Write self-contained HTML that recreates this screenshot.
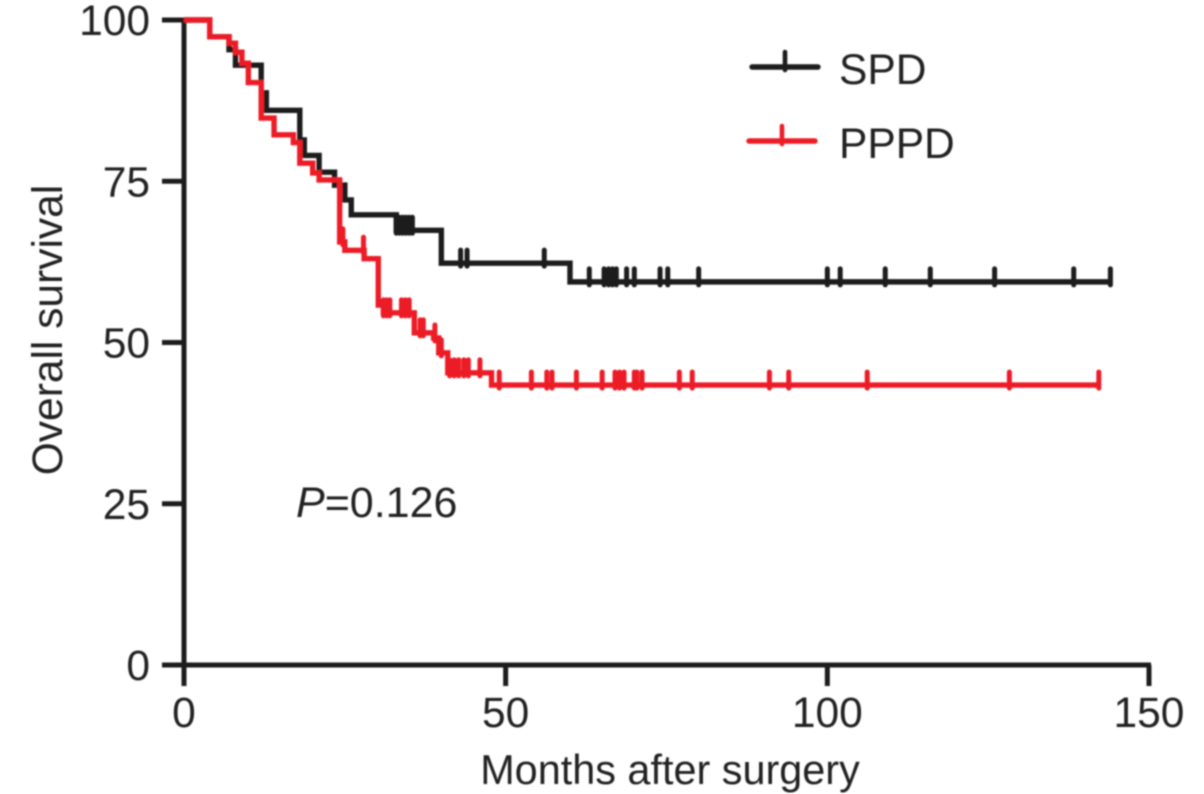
<!DOCTYPE html>
<html>
<head>
<meta charset="utf-8">
<style>
html,body{margin:0;padding:0;background:#fff;width:1204px;height:794px;overflow:hidden}
svg{display:block}
text{font-family:"Liberation Sans",sans-serif;fill:#222}
</style>
</head>
<body>
<svg id="chart" xmlns="http://www.w3.org/2000/svg" width="1204" height="794" viewBox="0 0 1204 794">
<defs><filter id="soft" x="-5%" y="-5%" width="110%" height="110%"><feGaussianBlur stdDeviation="0.7"/></filter></defs>
<g id="root" filter="url(#soft)"></g>
</svg>
<script>
var xTicks = [0, 50, 100, 150];
var yTicks = [0, 25, 50, 75, 100];
var spdTimes = [0, 4, 7, 8, 12, 12.8, 18, 18.7, 21, 23.4, 25, 26, 33, 40, 60, 144];
var spdSurv = [100, 97.4, 95.4, 93, 88.7, 86, 81.4, 79, 76.4, 74.4, 72.1, 69.8, 67.4, 62.3, 59.4, 59.4];
var spdCensor = [33, 33.5, 34, 34.5, 35, 35.5, 43, 44, 56, 63, 65.3, 66, 66.6, 67.2, 68.8, 70, 74, 75.2, 80, 100, 102, 109, 116, 126, 138.3, 144];
var pppdTimes = [0, 4, 7, 8, 9, 10, 12, 14, 17, 18, 20, 21, 24.2, 25, 28, 30.2, 31, 35.8, 38.8, 39.6, 41, 47.8, 142];
var pppdSurv = [100, 97.4, 96.4, 95, 93.3, 90.3, 84.8, 82.2, 81, 77.8, 76.3, 75.2, 65.6, 64.3, 63, 55.8, 54.6, 51.5, 50.7, 48.4, 45.3, 43.4, 43.4];
var pppdCensor = [24.7, 27.9, 31, 31.5, 32, 33.8, 34.4, 35, 36.7, 37.2, 39, 40, 41.3, 42, 42.7, 43.5, 44.2, 46, 49, 54, 56.4, 57.2, 61, 65, 67, 67.7, 68.4, 70, 70.4, 71.2, 77, 79, 91, 94, 106.2, 128.3, 142.2];

var NS = 'http://www.w3.org/2000/svg';
var root = document.getElementById('root');
function X(t){ return 184 + t * (1149 - 184) / 150; }
function Y(v){ return 665 - v * (665 - 20) / 100; }
function mk(tag, attrs, parent){
  var e = document.createElementNS(NS, tag);
  for (var k in attrs) e.setAttribute(k, attrs[k]);
  (parent || root).appendChild(e);
  return e;
}
function survAt(times, surv, t){
  var v = surv[0];
  for (var i = 0; i < times.length; i++) { if (times[i] <= t) v = surv[i]; }
  return v;
}
function stepPath(times, surv){
  var d = 'M' + X(times[0]) + ' ' + Y(surv[0]);
  for (var i = 1; i < times.length; i++) {
    d += 'H' + X(times[i]) + 'V' + Y(surv[i]);
  }
  return d;
}
function drawSeries(times, surv, censor, color, name){
  var g = mk('g', {});
  
  
  var p = mk('path', {d: stepPath(times, surv), fill: 'none', stroke: color, 'stroke-width': 5.4, 'stroke-linejoin': 'miter', 'stroke-linecap': 'butt'}, g);
  
  
  censor.forEach(function(t){
    var y = Y(survAt(times, surv, t));
    var c = mk('line', {x1: X(t), x2: X(t), y1: y - 13, y2: y + 3, stroke: color, 'stroke-width': 5, 'stroke-linecap': 'round'}, g);
    
    
  });
}
var axisColor = '#1f1f1f';

var yAxis = mk('line', {x1: X(0), x2: X(0), y1: Y(100) - 2, y2: 686, stroke: axisColor, 'stroke-width': 5});


var xAxis = mk('line', {x1: 162, x2: X(150) + 2, y1: Y(0), y2: Y(0), stroke: axisColor, 'stroke-width': 5});



yTicks.forEach(function(v){
  var t = mk('line', {x1: 162, x2: X(0), y1: Y(v), y2: Y(v), stroke: axisColor, 'stroke-width': 5});
  
  
  var l = mk('text', {x: 150, y: Y(v) + 15, 'text-anchor': 'end', 'font-size': 42.5});
  l.textContent = v;
  
  
});
xTicks.forEach(function(v){
  var t = mk('line', {x1: X(v), x2: X(v), y1: Y(0), y2: 686, stroke: axisColor, 'stroke-width': 5});
  
  
  var l = mk('text', {x: X(v), y: 727, 'text-anchor': 'middle', 'font-size': 42.5});
  l.textContent = v;
  
  
});

drawSeries(spdTimes, spdSurv, spdCensor, '#1c1c1c', 'spd');
drawSeries(pppdTimes, pppdSurv, pppdCensor, '#ec1c28', 'pppd');

var xTitle = mk('text', {x: 670, y: 784, 'text-anchor': 'middle', 'font-size': 41.4});
xTitle.textContent = 'Months after surgery';



var yTitle = mk('text', {x: 0, y: 0, 'text-anchor': 'middle', 'font-size': 42.5, transform: 'translate(62 330) rotate(-90)'});
yTitle.textContent = 'Overall survival';



var pText = mk('text', {x: 296, y: 517, 'font-size': 43});


var pItalic = mk('tspan', {'font-style': 'italic'}, pText);
pItalic.textContent = 'P';
var pRest = mk('tspan', {}, pText);
pRest.textContent = '=0.126';

var legendLabels = ['SPD', 'PPPD'];
var legendColors = ['#1c1c1c', '#ec1c28'];
var legendLineX = [[752, 818], [749, 815]];
var legendLineY = [67, 141];
legendLabels.forEach(function(name, i){
  var g = mk('g', {});
  
  
  var mid = (legendLineX[i][0] + legendLineX[i][1]) / 2;
  mk('line', {x1: legendLineX[i][0], x2: legendLineX[i][1], y1: legendLineY[i], y2: legendLineY[i], stroke: legendColors[i], 'stroke-width': 5.4, 'stroke-linecap': 'round'}, g);
  mk('line', {x1: mid, x2: mid, y1: legendLineY[i] - 15, y2: legendLineY[i] + 3, stroke: legendColors[i], 'stroke-width': 4.6, 'stroke-linecap': 'round'}, g);
  var t = mk('text', {x: 839, y: legendLineY[i] + 17, 'font-size': 42.5}, g);
  t.textContent = name;
});
</script>
</body>
</html>
